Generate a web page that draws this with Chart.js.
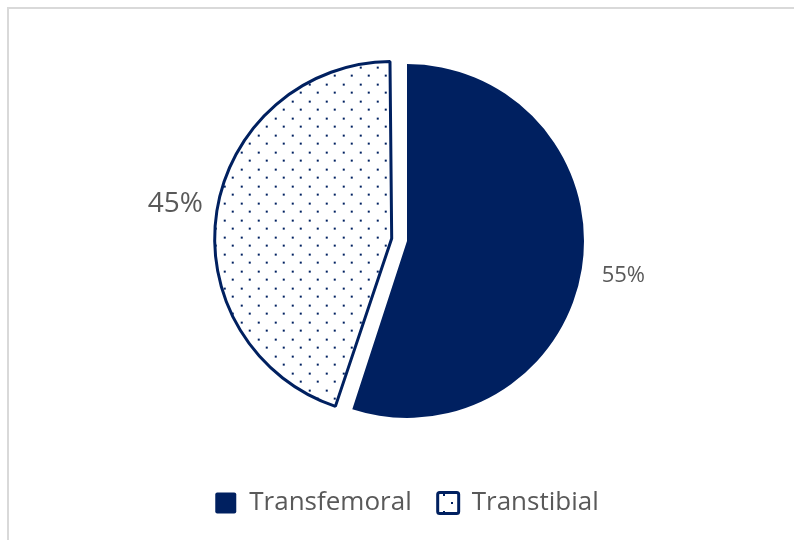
<!DOCTYPE html>
<html>
<head>
<meta charset="utf-8">
<script src="https://cdn.jsdelivr.net/npm/chart.js@4.4.1/dist/chart.umd.min.js"></script>
<style>
  html, body { margin: 0; padding: 0; background: #fff; overflow: hidden; }
  #frame { position: absolute; left: 7px; top: 7px; width: 900px; height: 700px;
           border-left: 2px solid #d9d9d9; border-top: 2px solid #d9d9d9; }
  #wrap { position: absolute; left: 0; top: 0; width: 794px; height: 540px; }
</style>
</head>
<body>
<div id="frame"></div>
<div id="wrap"><canvas id="chart"></canvas></div>
<script>
// données
const categories = ['Transfemoral', 'Transtibial'];
const shares = [55, 45];

const NAVY = '#002060';
const GREY = '#595959';

// motif pointillé pour la part "Transtibial"
function makeDots() {
  const c = document.createElement('canvas');
  c.width = 17; c.height = 17;
  const g = c.getContext('2d');
  g.fillStyle = '#fff';
  g.fillRect(0, 0, 17, 17);
  g.fillStyle = NAVY;
  g.fillRect(1, 1, 2, 2);
  g.fillRect(9, 9, 2, 2);
  return g.createPattern(c, 'repeat');
}

const ctx = document.getElementById('chart').getContext('2d');
const dots = makeDots();
const OFFSET = 62;   // décalage de la part extraite (Chart.js en applique 1/4)

// Chart.js grossit la part extraite : on remet le même rayon que l'autre
const keepRadius = {
  id: 'keepRadius',
  beforeDatasetsDraw(chart) {
    const meta = chart.getDatasetMeta(0);
    const R = meta.controller.outerRadius;
    meta.data.forEach(arc => {
      const off = (arc.options.offset || 0) / 4;
      const fix = 1 - Math.sin(Math.min(Math.PI, arc.circumference));
      arc.outerRadius = R - off * fix;
    });
  }
};

// étiquettes de pourcentage à l'extérieur
const pctLabels = {
  id: 'pctLabels',
  afterDatasetsDraw(chart) {
    const meta = chart.getDatasetMeta(0);
    const R = meta.controller.outerRadius;
    const total = shares.reduce((a, b) => a + b, 0);
    const sizes = [22, 28];
    const c = chart.ctx;
    c.save();
    c.fillStyle = GREY;
    c.textAlign = 'center';
    c.textBaseline = 'middle';
    meta.data.forEach((arc, i) => {
      const mid = (arc.startAngle + arc.endAngle) / 2;
      const off = (arc.options.offset || 0) / 4;
      const d = R + 42 + off;
      const x = arc.x + Math.cos(mid) * d;
      const y = arc.y + Math.sin(mid) * d;
      c.font = sizes[i] + 'px "Open Sans"';
      c.fillText(Math.round(shares[i] / total * 100) + '%', x, y);
    });
    c.restore();
  }
};

new Chart(ctx, {
  type: 'pie',
  data: {
    labels: categories,
    datasets: [{
      data: shares,
      backgroundColor: [NAVY, dots],
      borderColor: ['#fff', NAVY],
      borderWidth: [0, 3],
      offset: [0, OFFSET],
      radius: 177
    }]
  },
  options: {
    responsive: true,
    maintainAspectRatio: false,
    animation: false,
    layout: { padding: { left: 20, right: 0, top: 18, bottom: 14 } },
    plugins: {
      legend: {
        position: 'bottom',
        labels: {
          color: GREY,
          font: { family: 'Open Sans', size: 26 },
          boxWidth: 21, boxHeight: 21,
          useBorderRadius: true, borderRadius: 2,
          padding: 26
        }
      },
      tooltip: { enabled: false }
    }
  },
  plugins: [keepRadius, pctLabels]
});
</script>
</body>
</html>
